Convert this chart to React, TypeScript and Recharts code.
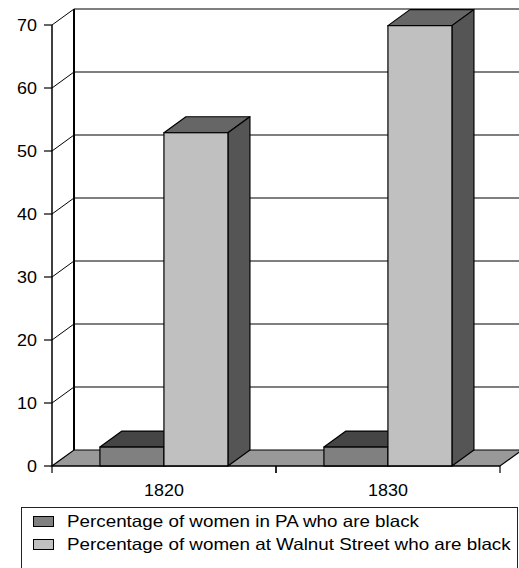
import React from 'react';
import { BarChart, Bar, XAxis, YAxis, CartesianGrid } from 'recharts';

// ---- data ----
const categories = ['1820', '1830'];
const paWomenBlack = [3.0, 3.0];
const walnutWomenBlack = [52.9, 69.9];
const yTicks = [0, 10, 20, 30, 40, 50, 60, 70];
const seriesNames = [
  'Percentage of women in PA who are black',
  'Percentage of women at Walnut Street who are black',
];

const data = categories.map((c, i) => ({
  year: c,
  pa: paWomenBlack[i],
  walnut: walnutWomenBlack[i],
}));

// ---- style ----
const DX = 22;
const DY = -16;
const FONT = '"Liberation Sans", Arial, Helvetica, sans-serif';
const SX = 1.12;
const STYLES = [
  { front: '#808080', top: '#454545', side: '#3a3a3a' },
  { front: '#c0c0c0', top: '#666666', side: '#555555' },
];

const make3D = (st: { front: string; top: string; side: string }) => (props: any) => {
  const { x, y, width, height } = props;
  if (width == null || height == null) return null;
  const r = x + width;
  const b = y + height;
  return (
    <g>
      <polygon
        points={`${x},${y} ${x + DX},${y + DY} ${r + DX},${y + DY} ${r},${y}`}
        fill={st.top}
        stroke="#000"
        strokeWidth={1.2}
        strokeLinejoin="round"
      />
      <polygon
        points={`${r},${y} ${r + DX},${y + DY} ${r + DX},${b + DY} ${r},${b}`}
        fill={st.side}
        stroke="#000"
        strokeWidth={1.2}
        strokeLinejoin="round"
      />
      <rect x={x} y={y} width={width} height={height} fill={st.front} stroke="#000" strokeWidth={1.2} />
    </g>
  );
};

const gridLine = (p: any) => {
  const { x1, x2, y1 } = p;
  const pts: number[] | undefined = p.horizontalPoints;
  const bottom = pts && pts.length ? Math.max(...pts) : p.y + p.height;
  let top = pts && pts.length ? Math.min(...pts) : p.y;
  const isFloor = Number.isFinite(bottom) ? Math.abs(y1 - bottom) < 0.5 : p.index === 0;
  if (!Number.isFinite(top)) top = y1;
  if (isFloor) {
    return (
      <g key={p.key}>
        <line x1={x1 + DX} y1={y1 + DY} x2={x1 + DX} y2={top + DY} stroke="#000" strokeWidth={2} />
        <polygon
          points={`${x1},${y1} ${x2},${y1} ${x2 + DX},${y1 + DY} ${x1 + DX},${y1 + DY}`}
          fill="#999999"
          stroke="#000"
          strokeWidth={1.2}
        />
      </g>
    );
  }
  return (
    <g key={p.key}>
      <line x1={x1 + DX} y1={y1 + DY} x2={x2 + DX + 10} y2={y1 + DY} stroke="#000" strokeWidth={1.1} />
      <line x1={x1} y1={y1} x2={x1 + DX} y2={y1 + DY} stroke="#000" strokeWidth={1} />
    </g>
  );
};

const YTick = (p: any) => (
  <g transform={`translate(${p.x},${p.y}) scale(${SX},1)`}>
    <text x={0} y={0} dy="0.36em" textAnchor="end" fontSize={16} fontFamily={FONT} fill="#000">
      {p.payload.value}
    </text>
  </g>
);

const XTick = (p: any) => {
  const off = p.payload && typeof p.payload.offset === 'number' ? p.payload.offset : 0;
  return (
    <g>
      <line x1={p.x - off} y1={p.y} x2={p.x - off} y2={p.y + 7} stroke="#000" strokeWidth={1.2} />
      <line x1={p.x + off} y1={p.y} x2={p.x + off} y2={p.y + 7} stroke="#000" strokeWidth={1.2} />
      <g transform={`translate(${p.x},${p.y + 30}) scale(${SX},1)`}>
        <text x={0} y={0} textAnchor="middle" fontSize={16} fontFamily={FONT} fill="#000">
          {p.payload.value}
        </text>
      </g>
    </g>
  );
};

export default function App() {
  return (
    <div
      style={{
        position: 'absolute',
        left: 0,
        top: 0,
        width: 519,
        height: 568,
        overflow: 'hidden',
        background: '#fff',
      }}
    >
      <BarChart
        width={519}
        height={568}
        data={data}
        margin={{ top: 25, right: 19, left: 0, bottom: 62 }}
        barCategoryGap="21.4%"
        barGap={0}
      >
        <CartesianGrid horizontal={gridLine} vertical={false} />
        <XAxis
          dataKey="year"
          height={40}
          tickLine={false}
          tickSize={0}
          tickMargin={0}
          tick={XTick}
          axisLine={{ stroke: '#000', strokeWidth: 1.2 }}
          interval={0}
        />
        <YAxis
          width={52}
          domain={[0, 70]}
          ticks={yTicks}
          tickSize={8}
          tickMargin={7}
          tick={YTick}
          tickLine={{ stroke: '#000', strokeWidth: 1.2 }}
          axisLine={{ stroke: '#000', strokeWidth: 1.5 }}
          interval={0}
        />
        <Bar dataKey="pa" name={seriesNames[0]} shape={make3D(STYLES[0])} isAnimationActive={false} />
        <Bar dataKey="walnut" name={seriesNames[1]} shape={make3D(STYLES[1])} isAnimationActive={false} />
      </BarChart>
      <div
        style={{
          position: 'absolute',
          left: 21,
          top: 507,
          width: 497,
          height: 80,
          border: '1px solid #222',
          boxSizing: 'border-box',
          fontFamily: FONT,
          fontSize: 16.5,
          color: '#000',
        }}
      >
        {seriesNames.map((n, i) => (
          <div
            key={n}
            style={{
              position: 'absolute',
              left: 11,
              top: 3 + i * 23,
              height: 20,
              display: 'flex',
              alignItems: 'center',
              whiteSpace: 'nowrap',
            }}
          >
            <span
              style={{
                display: 'inline-block',
                width: 19,
                height: 9,
                background: STYLES[i].front,
                border: '1px solid #000',
              }}
            />
            <span
              style={{
                display: 'inline-block',
                marginLeft: 13,
                transform: 'scaleX(1.14)',
                transformOrigin: 'left center',
                lineHeight: '20px',
              }}
            >
              {n}
            </span>
          </div>
        ))}
      </div>
    </div>
  );
}
